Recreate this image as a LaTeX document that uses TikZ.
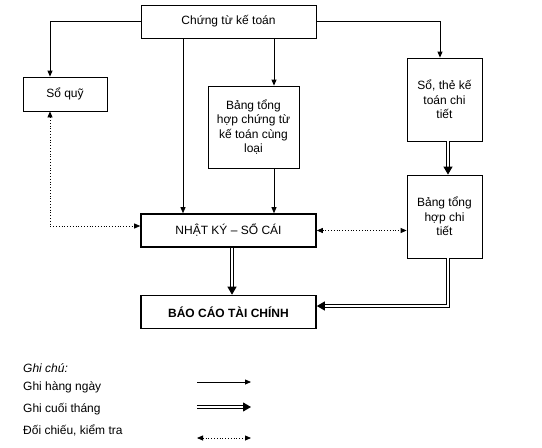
\documentclass[tikz,border=0pt]{standalone}
\usepackage{fontspec}
\setmainfont{Liberation Sans}
\usetikzlibrary{arrows.meta}
\begin{document}
\begin{tikzpicture}
[x=1pt,y=-1pt,
  boxdecorate/.style={draw,line width=0.8pt,inner sep=0pt,align=center,%
    font=\fontsize{12}{14.5}\selectfont},
  thickbox/.style={boxdecorate,line width=1.6pt},
  dailyline/.style={line width=0.8pt,-{Triangle[length=6pt,width=5pt]}},
  monthline/.style={double,double distance=1.8pt,line width=1pt,%
    -{Triangle[length=8pt,width=9pt]}},
  checkline/.style={dotted,line width=0.8pt,%
    {Triangle[length=6pt,width=5pt]}-{Triangle[length=6pt,width=5pt]}},
  legendtext/.style={anchor=west,inner sep=0pt,font=\fontsize{12}{14.5}\selectfont}]
\useasboundingbox (0,0) rectangle (542,448);
%% boxes
\node (ct) at (228.5,21.5) [boxdecorate,minimum width=175pt,minimum height=33pt] {Chứng từ kế toán};
\node (soquy) at (65,94) [boxdecorate,minimum width=84pt,minimum height=34pt] {Sổ quỹ};
\node (bth) at (253.5,127) [boxdecorate,minimum width=91pt,minimum height=82pt]
  {Bảng tổng\\hợp chứng từ\\kế toán cùng\\loại};
\node (sothe) at (444.5,99.5) [boxdecorate,minimum width=75pt,minimum height=83pt]
  {Sổ, thẻ kế\\toán chi\\tiết};
\node (btct) at (444.5,216.5) [boxdecorate,minimum width=75pt,minimum height=83pt]
  {Bảng tổng\\hợp chi\\tiết};
\node (nksc) at (228.5,230.5) [thickbox,minimum width=175pt,minimum height=33pt] {NHẬT KÝ – SỔ CÁI};
\node (bctc) at (228.5,312) [thickbox,minimum width=175pt,minimum height=33pt] {\bfseries BÁO CÁO TÀI CHÍNH};
%% connectors
\draw[dailyline] (ct.west) -| ([xshift=-15pt]soquy.north);
\draw[dailyline] (ct.east) -| ([xshift=-4.5pt]sothe.north);
\draw[dailyline] ([xshift=-45.5pt]ct.south) -- ([xshift=-45.5pt]nksc.north);
\draw[dailyline] ([xshift=45.5pt]ct.south) -- ([xshift=20.5pt]bth.north);
\draw[dailyline] ([xshift=20.5pt]bth.south) -- ([xshift=45.5pt]nksc.north);
\draw[monthline] ([xshift=3.5pt]sothe.south) -- ([xshift=3.5pt]btct.north);
\draw[monthline] ([xshift=3.5pt]nksc.south) -- ([xshift=3.5pt]bctc.north);
\draw[monthline] ([xshift=3.5pt]btct.south) |- ([yshift=6pt]bctc.east);
\draw[checkline] ([xshift=-15pt]soquy.south) |- ([yshift=4.5pt]nksc.west);
\draw[checkline] (nksc.east) -- (nksc.east -| btct.west);
%% legend
\node (ghichu) at (23,368) [legendtext] {\itshape Ghi chú:};
\node (daily) at (23,387) [legendtext] {Ghi hàng ngày};
\node (month) at (23,409) [legendtext] {Ghi cuối tháng};
\node (check) at (23,430) [legendtext] {Đối chiếu, kiểm tra};
\coordinate (d1) at (197,382); \coordinate (d2) at (251,382);
\coordinate (m1) at (197,407); \coordinate (m2) at (251,407);
\coordinate (c1) at (197,438); \coordinate (c2) at (251,438);
\draw[dailyline] (d1) -- (d2);
\draw[monthline] (m1) -- (m2);
\draw[checkline] (c1) -- (c2);
\end{tikzpicture}
\end{document}
